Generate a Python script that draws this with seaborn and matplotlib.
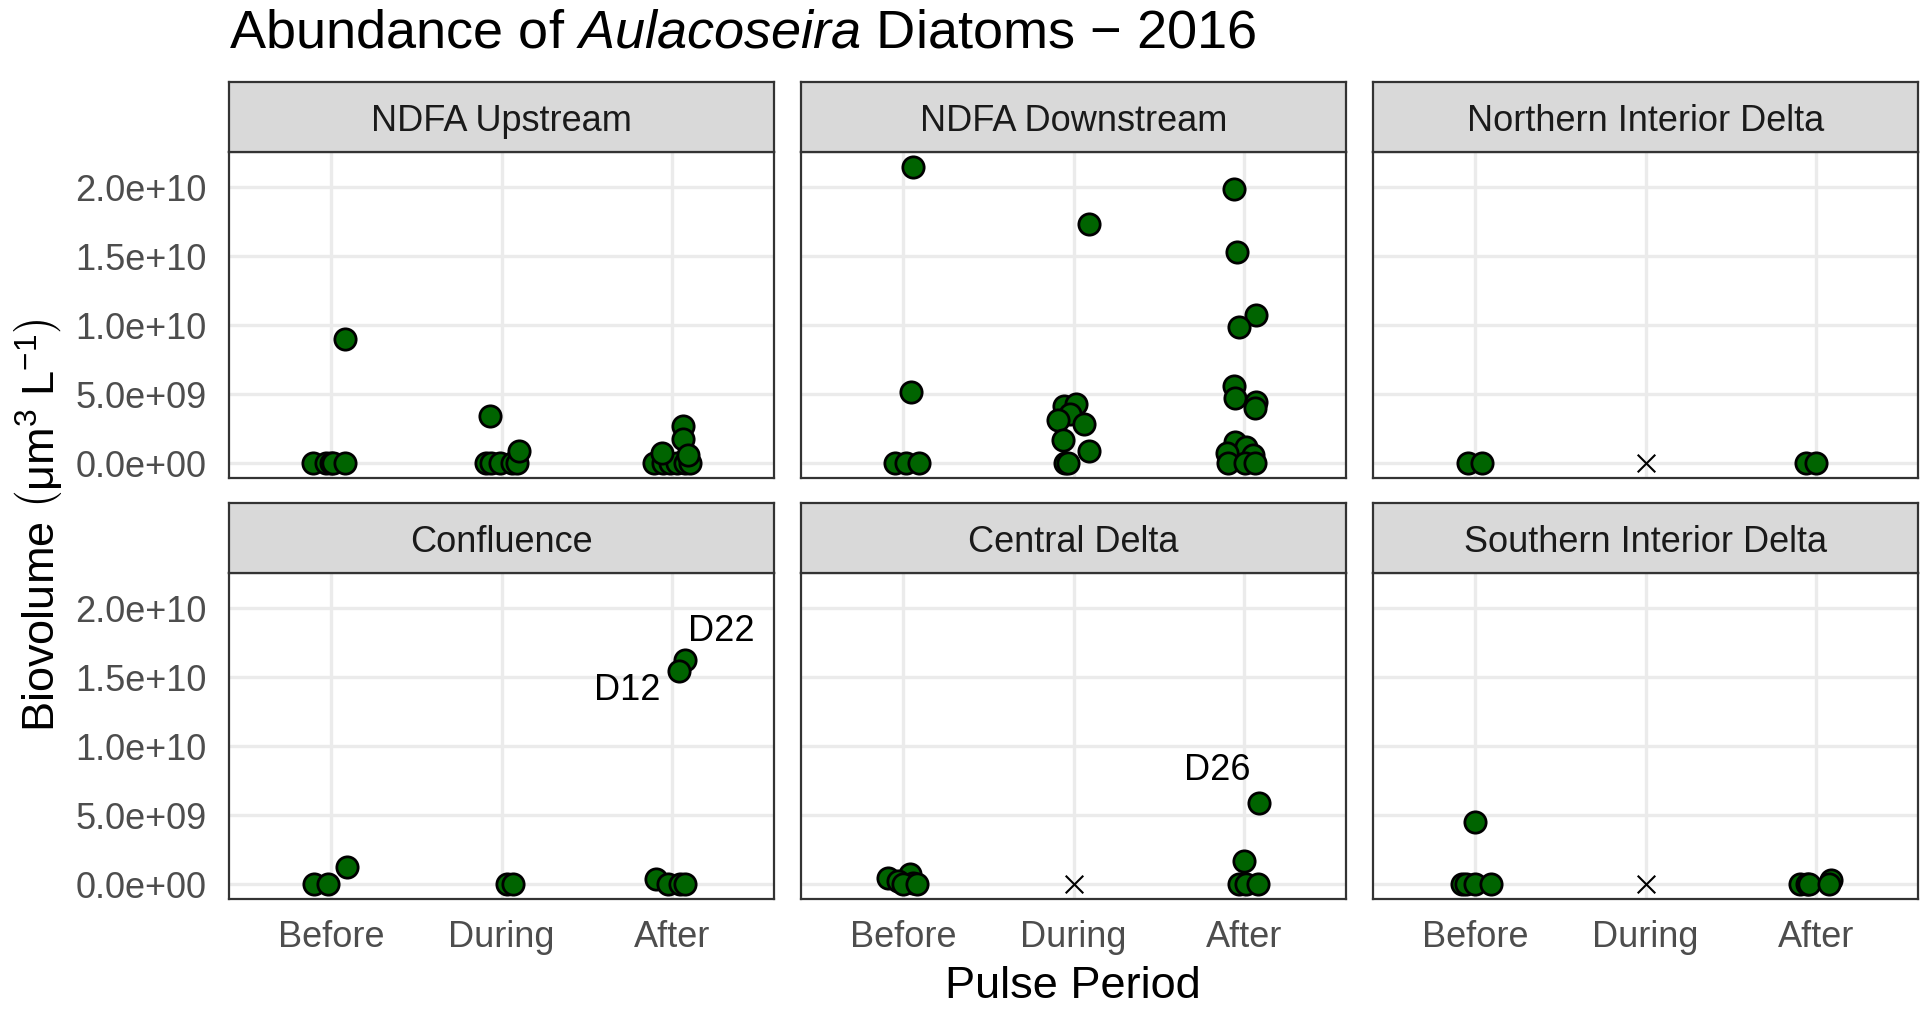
import numpy as np
import pandas as pd
import matplotlib
matplotlib.use("Agg")
import matplotlib.pyplot as plt
from matplotlib.ticker import FuncFormatter
import seaborn as sns

# ---------------- data ----------------
REGIONS = ["NDFA Upstream", "NDFA Downstream", "Northern Interior Delta",
           "Confluence", "Central Delta", "Southern Interior Delta"]
PERIODS = ["Before", "During", "After"]

UP_PERIOD = ["Before"] * 6 + ["During"] * 7 + ["After"] * 10
UP_BIOVOL = [0, 0, 0, 0, 0, 9.0e9,
             3.4e9, 0, 0, 0, 0, 0, 0.87e9,
             0, 0, 0, 0, 0, 0, 0.72e9, 2.67e9, 1.73e9, 0.58e9]
UP_JITTER = [-0.107, -0.03, 0.0, 0.01, 0.08, 0.08,
             -0.07, -0.09, -0.06, -0.01, 0.06, 0.09, 0.10,
             -0.107, -0.05, -0.01, 0.03, 0.08, 0.107, -0.06, 0.065, 0.065, 0.095]

DOWN_PERIOD = ["Before"] * 5 + ["During"] * 10 + ["After"] * 15
DOWN_BIOVOL = [2.15e10, 5.2e9, 0, 0, 0,
               1.736e10, 4.17e9, 4.29e9, 3.6e9, 3.1e9, 2.86e9, 1.67e9, 0.88e9, 0, 0,
               1.986e10, 1.533e10, 1.078e10, 9.85e9, 5.6e9, 4.76e9, 4.45e9, 3.98e9,
               1.55e9, 1.19e9, 0.71e9, 0.6e9, 0, 0, 0]
DOWN_JITTER = [0.06, 0.045, -0.05, 0.015, 0.09,
               0.09, -0.055, 0.015, -0.02, -0.09, 0.06, -0.06, 0.09, -0.05, -0.03,
               -0.055, -0.04, 0.07, -0.03, -0.06, -0.05, 0.07, 0.065,
               -0.05, 0.015, -0.10, 0.055, -0.09, 0.005, 0.065]

NID_PERIOD = ["Before", "Before", "After", "After"]
NID_BIOVOL = [0, 0, 0, 0]
NID_JITTER = [-0.04, 0.04, -0.06, 0.0]

CONF_PERIOD = ["Before"] * 3 + ["During"] * 2 + ["After"] * 6
CONF_BIOVOL = [0, 0, 1.26e9,
               0, 0,
               1.628e10, 1.547e10, 0.39e9, 0, 0, 0]
CONF_JITTER = [-0.10, -0.02, 0.09,
               0.03, 0.07,
               0.08, 0.04, -0.09, -0.02, 0.05, 0.08]

CENT_PERIOD = ["Before"] * 6 + ["After"] * 5
CENT_BIOVOL = [0.48e9, 0.72e9, 0.24e9, 0.1e9, 0, 0,
               5.9e9, 1.69e9, 0, 0, 0]
CENT_JITTER = [-0.09, 0.04, -0.03, 0.06, 0.0, 0.08,
               0.09, 0.0, -0.03, 0.015, 0.085]

SOUTH_PERIOD = ["Before"] * 5 + ["After"] * 5
SOUTH_BIOVOL = [4.5e9, 0, 0, 0, 0,
                0, 0, 0, 0.32e9, 0]
SOUTH_JITTER = [0.0, -0.08, -0.055, 0.0, 0.09,
                -0.09, -0.05, -0.04, 0.09, 0.075]

# periods without samples (drawn as a cross at zero)
MISSING_REGION = ["Northern Interior Delta", "Central Delta", "Southern Interior Delta"]
MISSING_PERIOD = ["During", "During", "During"]

# labelled stations
LABEL_REGION = ["Confluence", "Confluence", "Central Delta"]
LABEL_BIOVOL = [1.628e10, 1.547e10, 5.9e9]
LABEL_TEXT = ["D22", "D12", "D26"]

Y_TICKS = [0, 5e9, 1e10, 1.5e10, 2e10]

# ---------------- build table ----------------
parts = []
for reg, per, val, jit in [
    (REGIONS[0], UP_PERIOD, UP_BIOVOL, UP_JITTER),
    (REGIONS[1], DOWN_PERIOD, DOWN_BIOVOL, DOWN_JITTER),
    (REGIONS[2], NID_PERIOD, NID_BIOVOL, NID_JITTER),
    (REGIONS[3], CONF_PERIOD, CONF_BIOVOL, CONF_JITTER),
    (REGIONS[4], CENT_PERIOD, CENT_BIOVOL, CENT_JITTER),
    (REGIONS[5], SOUTH_PERIOD, SOUTH_BIOVOL, SOUTH_JITTER),
]:
    parts.append(pd.DataFrame({"region": reg, "period": per, "biovol": val, "jitter": jit}))
df = pd.concat(parts, ignore_index=True)
df["xpos"] = df["period"].map({p: i + 1 for i, p in enumerate(PERIODS)}) + df["jitter"]

miss = pd.DataFrame({"region": MISSING_REGION, "period": MISSING_PERIOD})
miss["xpos"] = miss["period"].map({p: i + 1 for i, p in enumerate(PERIODS)}).astype(float)
miss["biovol"] = 0.0

# ---------------- style ----------------
sns.set_style("white")
plt.rcParams["font.family"] = ["Liberation Sans", "DejaVu Sans"]
plt.rcParams["mathtext.fontset"] = "custom"
plt.rcParams["mathtext.rm"] = "Liberation Sans"
plt.rcParams["mathtext.it"] = "Liberation Sans:italic"
plt.rcParams["mathtext.bf"] = "Liberation Sans:bold"

W, H = 1921, 1017
fig = plt.figure(figsize=(W / 100, H / 100), dpi=100)
fig.patch.set_facecolor("white")


def rect(x0, x1, y0, y1):
    return [x0 / W, 1 - y1 / H, (x1 - x0) / W, (y1 - y0) / H]


COLS = [(229, 774), (801, 1346), (1373, 1918)]
ROWS = [((82, 152), (152, 478)), ((503, 573), (573, 899))]

ymax = df["biovol"].max()
ylim = (-0.05 * ymax, 1.05 * ymax)
BORDER = "#333333"

for i, reg in enumerate(REGIONS):
    r, c = divmod(i, 3)
    (sy0, sy1), (py0, py1) = ROWS[r]
    x0, x1 = COLS[c]
    ax = fig.add_axes(rect(x0, x1, py0, py1))
    sub = df[df["region"] == reg]
    sns.scatterplot(data=sub, x="xpos", y="biovol", ax=ax, color="#006400",
                    edgecolor="black", linewidth=2.0, s=235, legend=False, zorder=3)
    msub = miss[miss["region"] == reg]
    if len(msub):
        sns.scatterplot(data=msub, x="xpos", y="biovol", ax=ax, marker="x",
                        color="black", s=160, linewidth=1.5, legend=False, zorder=3)
    for reg_l, val_l, txt in zip(LABEL_REGION, LABEL_BIOVOL, LABEL_TEXT):
        if reg_l != reg:
            continue
        row = sub.loc[(sub["biovol"] - val_l).abs() < 1e6].iloc[0]
        offs = {"D22": (26, 20), "D12": (-37, -14), "D26": (-30, 23)}[txt]
        ax.annotate(txt, (row["xpos"], row["biovol"]), xytext=offs,
                    textcoords="offset points", ha="center", va="center",
                    fontsize=26, color="black")
    ax.set_xlim(0.4, 3.6)
    ax.set_ylim(*ylim)
    ax.set_xticks([1, 2, 3])
    ax.set_xticklabels(PERIODS)
    ax.set_yticks(Y_TICKS)
    ax.yaxis.set_major_formatter(FuncFormatter(lambda v, p: f"{v:.1e}"))
    ax.grid(True, color="#EBEBEB", linewidth=2.4)
    ax.set_axisbelow(True)
    ax.set_xlabel("")
    ax.set_ylabel("")
    for sp in ax.spines.values():
        sp.set_color(BORDER)
        sp.set_linewidth(1.6)
    ax.tick_params(axis="both", colors=BORDER, labelcolor="#4D4D4D",
                   labelsize=26, width=1.8, length=8)
    ax.tick_params(axis="y", pad=8)
    ax.tick_params(axis="x", pad=7)
    if c != 0:
        ax.tick_params(axis="y", left=False, labelleft=False)
    if r != 1:
        ax.tick_params(axis="x", bottom=False, labelbottom=False)

    sax = fig.add_axes(rect(x0, x1, sy0, sy1))
    sax.set_facecolor("#D9D9D9")
    sax.set_xticks([])
    sax.set_yticks([])
    for sp in sax.spines.values():
        sp.set_color(BORDER)
        sp.set_linewidth(1.6)
    sax.text(0.5, 0.30, reg, ha="center", va="baseline", fontsize=26,
             color="#1A1A1A", transform=sax.transAxes)

fig.text(229 / W, 1 - 47 / H, r"Abundance of $\mathit{Aulacoseira}$ Diatoms − 2016",
         fontsize=39, ha="left", va="baseline", color="black")
fig.text(1073 / W, 1 - 987 / H, "Pulse Period", fontsize=32.5,
         ha="center", va="center", color="black")
fig.text(38 / W, 1 - 526 / H, r"Biovolume $\left(\mathrm{\mu m^{3}\ L^{-1}}\right)$",
         fontsize=32.5, rotation=90, ha="center", va="center", color="black")

fig.savefig("out.png", dpi=100)
